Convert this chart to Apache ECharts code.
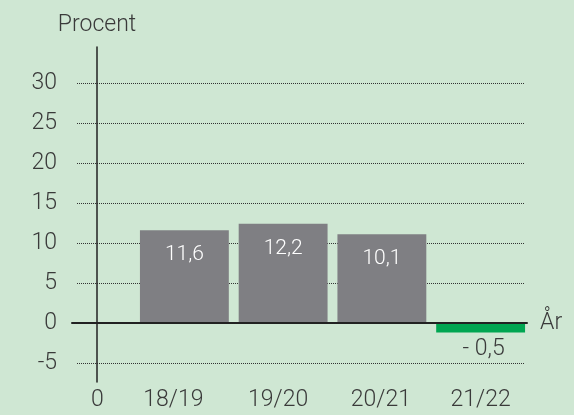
<!DOCTYPE html>
<html>
<head>
<meta charset="utf-8">
<script src="https://cdn.jsdelivr.net/npm/echarts@6/dist/echarts.min.js"></script>
<style>
  html, body { margin: 0; padding: 0; background: #cfe7d3; }
  #chart { width: 574px; height: 415px; }
</style>
</head>
<body>
<div id="chart"></div>
<script>
// bar heights as drawn in the picture, and the printed labels
var years = ["18/19", "19/20", "20/21", "21/22"];
var values = [11.6, 12.4, 11.1, -1.2];
var labels = ["11,6", "12,2", "10,1", "- 0,5"];
var yMin = -7.375, yMax = 34.5;

var textColor = "#3a3a3a";
var font = "Roboto";
// the year labels sit a little left of the bars in the original
var yearShift = [22, 10, 2, 0];

var myChart = echarts.init(document.getElementById("chart"));

var option = {
  backgroundColor: "#cfe7d3",
  animation: false,
  textStyle: { fontFamily: font },
  grid: [
    { left: 135, right: 44, top: 47, bottom: 33 },  // bars
    { left: 77, right: 49, top: 47, bottom: 33 },   // dotted lines
    { left: 72, right: 47, top: 47, bottom: 33 }    // zero line
  ],
  xAxis: [
    {
      gridIndex: 0,
      type: "category",
      data: years.map(function (y, i) {
        return { value: y, textStyle: { padding: [0, yearShift[i], 0, 0] } };
      }),
      position: "bottom",
      axisLine: { show: false, onZero: false },
      axisTick: { show: false },
      axisLabel: { color: textColor, fontSize: 23, fontWeight: 300, margin: 7 }
    },
    {
      gridIndex: 1, type: "value", min: 0, max: 1, show: false
    },
    {
      gridIndex: 2, type: "value", min: 0, max: 1,
      z: 5,
      axisLine: { show: true, onZero: true, lineStyle: { color: "#222", width: 2 } },
      axisTick: { show: false },
      axisLabel: { show: false },
      splitLine: { show: false },
      name: "År",
      nameLocation: "end",
      nameGap: 13,
      nameTextStyle: { color: textColor, fontSize: 23, fontWeight: 300, padding: [0, 0, 12, 0] }
    }
  ],
  yAxis: [
    {
      gridIndex: 0,
      type: "value",
      min: yMin, max: yMax,
      minInterval: 5, maxInterval: 5,
      offset: 38,
      name: "Procent",
      nameLocation: "end",
      nameGap: 10,
      nameTextStyle: { color: textColor, fontSize: 23, fontWeight: 300 },
      axisLine: { show: true, lineStyle: { color: "#222", width: 1.5 } },
      axisTick: { show: false },
      axisLabel: {
        color: textColor, fontSize: 23, fontWeight: 300, margin: 40,
        showMinLabel: false, showMaxLabel: false
      },
      splitLine: { show: false }
    },
    {
      gridIndex: 1,
      type: "value",
      min: yMin, max: yMax,
      minInterval: 5, maxInterval: 5,
      axisLine: { show: false },
      axisTick: { show: false },
      axisLabel: { show: false },
      splitLine: {
        show: true, showMinLine: false, showMaxLine: false,
        lineStyle: { color: "#333", type: "dotted", width: 1 }
      }
    },
    {
      gridIndex: 2, type: "value", min: yMin, max: yMax, show: false
    }
  ],
  graphic: [
    {
      type: "text",
      left: 91, top: 389,
      style: { text: "0", fill: textColor, font: "300 23px " + font }
    }
  ],
  series: [
    {
      type: "bar",
      xAxisIndex: 0,
      yAxisIndex: 0,
      barWidth: "90%",
      data: values.map(function (v, i) {
        var neg = v < 0;
        return {
          value: v,
          itemStyle: { color: neg ? "#00a651" : "#7f7f83" },
          label: {
            show: true,
            position: neg ? "bottom" : "insideTop",
            distance: neg ? 5 : 14,
            color: neg ? textColor : "#ffffff",
            fontSize: neg ? 23 : 21,
            fontWeight: 300,
            padding: neg ? [0, 0, 0, 6] : 0,
            formatter: labels[i]
          }
        };
      })
    }
  ]
};

myChart.setOption(option);
</script>
</body>
</html>
